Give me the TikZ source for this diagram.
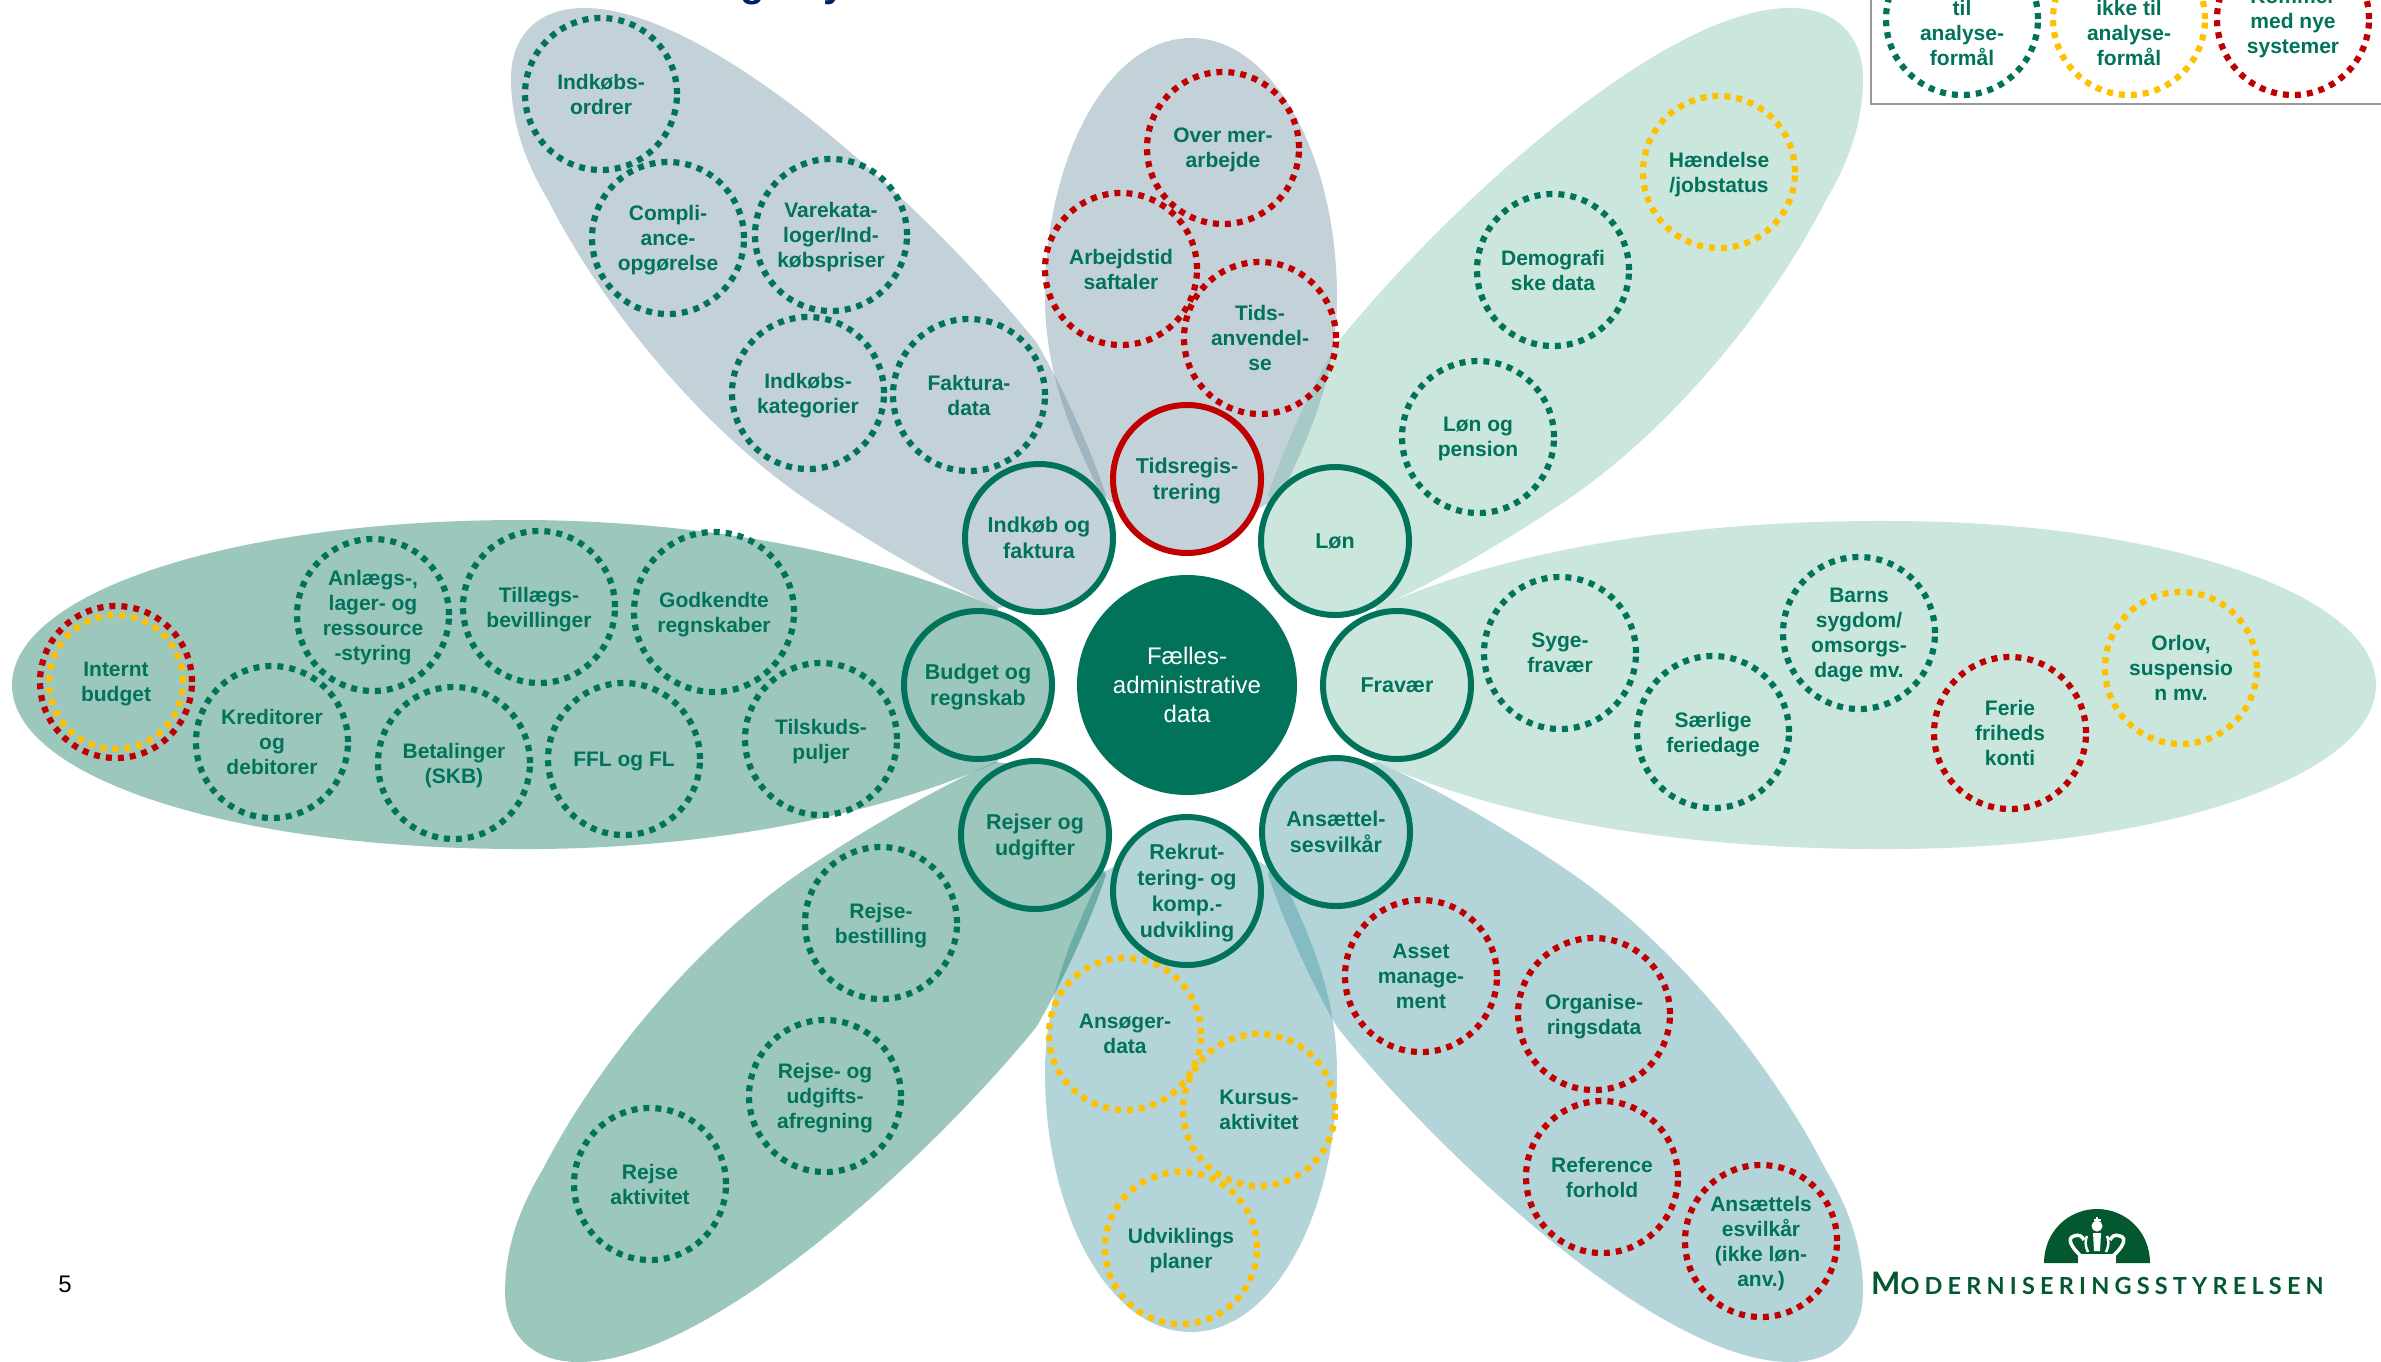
\documentclass[tikz,border=0pt]{standalone}
\usepackage{fontspec}
\setmainfont{Liberation Sans}
\newfontfamily\logofont[LetterSpace=22]{Lato}
\definecolor{tc}{HTML}{00735A}
\definecolor{redc}{HTML}{C00000}
\definecolor{yelc}{HTML}{FFC000}
\definecolor{logoc}{HTML}{03582F}
\definecolor{navyc}{HTML}{002060}
\definecolor{pgrey}{HTML}{6B8EA0}
\definecolor{plight}{HTML}{7DC1AA}
\definecolor{pmid}{HTML}{08735A}
\definecolor{pblue}{HTML}{4196A0}
\definecolor{sgrey}{HTML}{C4D2D9}
\definecolor{slight}{HTML}{CBE6DD}
\definecolor{smid}{HTML}{9CC7BD}
\definecolor{sblue}{HTML}{B3D5D9}
\tikzset{
  lbl/.style={text=tc,align=center,text depth=0pt,font=\bfseries\fontsize{21}{25}\selectfont},
  dotring/.style={circle,draw,line width=6.2pt,dash pattern=on 6pt off 6pt,minimum size=#1,inner sep=-25pt,outer sep=0pt,lbl},
  dotring/.default=152pt,
  dotg/.style={dotring,draw=tc},
  dotr/.style={dotring,draw=redc},
  doty/.style={dotring,draw=yelc},
  hub/.style={circle,draw=tc,line width=6pt,minimum size=148pt,inner sep=-25pt,outer sep=0pt,text=tc,align=center,text depth=0pt,font=\bfseries\fontsize{21.5}{26}\selectfont},
  petal/.style={fill opacity=0.4},
  mirx/.style={cm={-1,0,0,1,(2374,0)}},
  miry/.style={cm={1,0,0,-1,(0,1370)}},
  mirxy/.style={cm={-1.01,0,0,-1,(2386.68,1370)}},
}
\newcommand\petalUR{(1268,495) .. controls (1285,445) and (1310,390) .. (1337,343)
  .. controls (1440,215) and (1660,8) .. (1790,8)
  .. controls (1840,8) and (1863,40) .. (1863,78)
  .. controls (1863,120) and (1850,160) .. (1826,200)
  .. controls (1770,310) and (1670,430) .. (1567,500)
  .. controls (1500,545) and (1430,585) .. (1377,608)
  -- (1310,600) -- cycle}
\newcommand\petalTop{(1191,38) .. controls (1275,38) and (1337,160) .. (1337,297)
  .. controls (1337,375) and (1310,435) .. (1280,497)
  -- (1191,545) -- (1102,497)
  .. controls (1072,435) and (1045,375) .. (1045,297)
  .. controls (1045,160) and (1107,38) .. (1191,38) -- cycle}
\begin{document}
\begin{tikzpicture}[x=1pt,y=-1pt]
\useasboundingbox (0,0) rectangle (2381,1361);
\fill[white] (0,0) rectangle (2381,1361);
% petals
\fill[pgrey,petal] \petalTop;
\fill[pgrey,petal,mirx] \petalUR;
\fill[plight,petal] \petalUR;
\fill[pblue,petal,miry] \petalTop;
\fill[pblue,petal,miry] \petalUR;
\fill[pmid,petal,mirxy] \petalUR;
\fill[plight,petal] (1330,685) -- (1377,608) .. controls (1500,552) and (1680,520) .. (1890,521)
  .. controls (2158,521) and (2376,593) .. (2376,685)
  .. controls (2376,777) and (2158,849) .. (1890,849)
  .. controls (1680,850) and (1500,818) .. (1377,762) -- cycle;
\fill[pmid,petal] (1044,685) -- (997,608) .. controls (874,552) and (694,520) .. (520,520)
  .. controls (230,520) and (12,593) .. (12,685)
  .. controls (12,777) and (230,849) .. (520,849)
  .. controls (694,850) and (874,818) .. (997,762) -- cycle;
% title remnants
\node[anchor=base,text=navyc,font=\bfseries\fontsize{40}{40}\selectfont,inner sep=0pt] (titleg) at (753,-4) {g};
\node[anchor=base,text=navyc,font=\bfseries\fontsize{40}{40}\selectfont,inner sep=0pt] (titley) at (835,-4) {y};
% legend
\draw[color=black!40,line width=1.5pt] (1871,-10) -- (1871,104) -- (2395,104);
\node[dotg] (lg) at (1962,19) {};
\node[doty] (ly) at (2129,19) {};
\node[dotr] (lr) at (2293,19) {};
\node[lbl] (lgt) at (1962,33) {til\\analyse-\\formål};
\node[lbl] (lyt) at (2129,33) {ikke til\\analyse-\\formål};
\node[lbl] (lrt) at (2293,21) {Kommer\\med nye\\systemer};
% top-left
\node[dotg] (a1) at (601,94) {Indkøbs-\\ordrer};
\node[dotg] (a2) at (668,238) {Compli-\\ance-\\opgørelse};
\node[dotg] (a3) at (831,235) {Varekata-\\loger/Ind-\\købspriser};
\node[dotg] (a4) at (808,393) {Indkøbs-\\kategorier};
\node[dotg] (a5) at (969,395) {Faktura-\\data};
% top
\node[dotr] (b1) at (1223,148) {Over mer-\\arbejde};
\node[dotr] (b2) at (1121,269) {Arbejdstid\\saftaler};
\node[dotr] (b3) at (1260,338) {Tids-\\anvendel-\\se};
% upper right
\node[doty] (c1) at (1719,172) {Hændelse\\/jobstatus};
\node[dotg] (c2) at (1553,270) {Demografi\\ske data};
\node[dotg] (c3) at (1478,437) {Løn og\\pension};
% right
\node[dotg] (d1) at (1560,653) {Syge-\\fravær};
\node[dotg] (d2) at (1713,732) {Særlige\\feriedage};
\node[dotg] (d3) at (1859,633) {Barns\\sygdom/\\omsorgs-\\dage mv.};
\node[dotr] (d4) at (2010,733) {Ferie\\friheds\\konti};
\node[doty] (d5) at (2181,668) {Orlov,\\suspensio\\n mv.};
% lower right
\node[dotr] (e1) at (1421,976) {Asset\\manage-\\ment};
\node[dotr] (e2) at (1594,1014) {Organise-\\ringsdata};
\node[dotr] (e3) at (1602,1177) {Reference\\forhold};
\node[dotr] (e4) at (1761,1241) {Ansættels\\esvilkår\\(ikke løn-\\anv.)};
% bottom
\node[doty] (f1) at (1125,1034) {Ansøger-\\data};
\node[doty] (f2) at (1259,1110) {Kursus-\\aktivitet};
\node[doty] (f3) at (1181,1248) {Udviklings\\planer};
% lower left
\node[dotg] (g1) at (881,923) {Rejse-\\bestilling};
\node[dotg] (g2) at (825,1096) {Rejse- og\\udgifts-\\afregning};
\node[dotg] (g3) at (650,1184) {Rejse\\aktivitet};
% left
\node[dotr] (h1) at (116,682) {Internt\\budget};
\node[doty,minimum size=134pt] (h1y) at (116,682) {};
\node[dotg] (h2) at (373,615) {Anlægs-,\\lager- og\\ressource\\-styring};
\node[dotg] (h3) at (539,607) {Tillægs-\\bevillinger};
\node[dotg,minimum size=160pt] (h4) at (714,612) {Godkendte\\regnskaber};
\node[dotg] (h5) at (272,742) {Kreditorer\\og\\debitorer};
\node[dotg] (h6) at (454,763) {Betalinger\\(SKB)};
\node[dotg] (h7) at (624,759) {FFL og FL};
\node[dotg] (h8) at (821,739) {Tilskuds-\\puljer};
% hubs
\node[hub,fill=sgrey,draw=redc] (n1) at (1187,479) {Tidsregis-\\trering};
\node[hub,fill=slight] (n2) at (1335,541) {Løn};
\node[hub,fill=slight] (n3) at (1397,685) {Fravær};
\node[hub,fill=sblue] (n4) at (1336,832) {Ansættel-\\sesvilkår};
\node[hub,fill=sblue] (n5) at (1187,891) {Rekrut-\\tering- og\\komp.-\\udvikling};
\node[hub,fill=smid] (n6) at (1035,835) {Rejser og\\udgifter};
\node[hub,fill=smid] (n7) at (978,685) {Budget og\\regnskab};
\node[hub,fill=sgrey] (n8) at (1039,538) {Indkøb og\\faktura};
\node[circle,fill=tc,minimum size=220pt,inner sep=-25pt,text=white,align=center,font=\fontsize{24}{29}\selectfont] (core) at (1187,685) {Fælles-\\administrative\\data};
% page number
\node[font=\fontsize{24}{24}\selectfont,text=black,inner sep=0pt] (pg) at (65,1284) {5};
% logo
\fill[logoc] (2044,1263) .. controls (2044,1232) and (2068,1209) .. (2097,1209)
  .. controls (2126,1209) and (2150,1232) .. (2150,1263) -- cycle;
\fill[white] (2078,1264) -- (2078,1254) -- (2116,1254) -- (2116,1264) -- cycle;
\draw[white,line width=3.5pt] (2081,1256) .. controls (2072,1248) and (2066,1238) .. (2074,1236) .. controls (2079,1234) and (2082,1236) .. (2084,1240);
\draw[white,line width=3.5pt] (2113,1256) .. controls (2122,1248) and (2128,1238) .. (2120,1236) .. controls (2115,1234) and (2112,1236) .. (2110,1240);
\draw[white,line width=2.5pt] (2088,1252) .. controls (2085,1246) and (2085,1240) .. (2087,1236);
\draw[white,line width=2.5pt] (2106,1252) .. controls (2109,1246) and (2109,1240) .. (2107,1236);
\fill[white] (2097,1226) circle (5.5);
\fill[white] (2093,1233) -- (2101,1233) -- (2100,1251) -- (2094,1251) -- cycle;
\draw[white,line width=1.8pt] (2097,1217) -- (2097,1224) (2093.5,1220) -- (2100.5,1220);
\node[anchor=base west,inner sep=0pt,text=logoc] (logotext) at (1871,1294) {\logofont\bfseries\fontsize{31}{31}\selectfont M\fontsize{23.5}{31}\selectfont ODERNISERINGSSTYRELSEN};
\end{tikzpicture}
\end{document}
